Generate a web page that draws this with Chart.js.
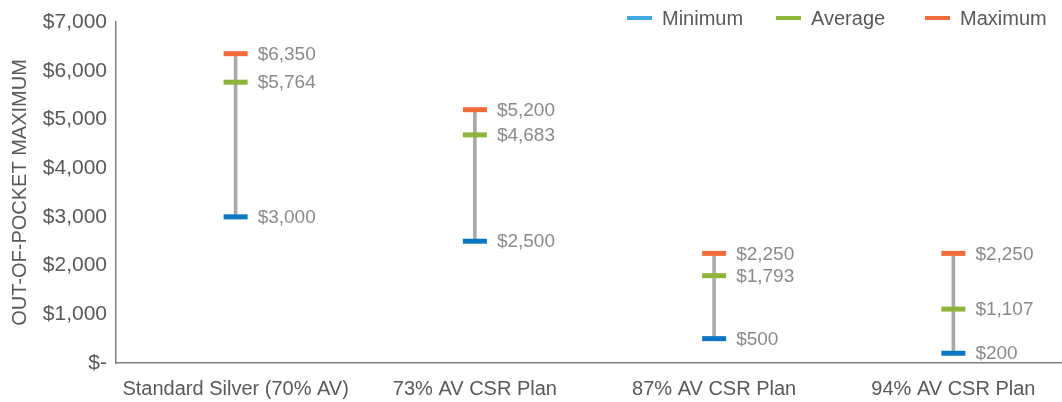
<!DOCTYPE html>
<html>
<head>
  <title>Out-of-Pocket Maximum</title>
  <script src="https://cdn.jsdelivr.net/npm/chart.js"></script>
  <style>
    body { margin: 0; overflow: hidden; background: #fff; }
    #wrap { width: 1062px; height: 402px; overflow: hidden; }
  </style>
</head>
<body>
  <div id="wrap">
    <canvas id="oopChart" width="1090" height="402"></canvas>
  </div>

  <script>
    // chart data
    const plans = ['Standard Silver (70% AV)', '73% AV CSR Plan', '87% AV CSR Plan', '94% AV CSR Plan'];
    const minimum = [3000, 2500, 500, 200];
    const average = [5764, 4683, 1793, 1107];
    const maximum = [6350, 5200, 2250, 2250];
    const yTicks = [0, 1000, 2000, 3000, 4000, 5000, 6000, 7000];

    const FONT = "'Liberation Sans', Arial, sans-serif";
    const money = v => v === 0 ? '$-' : '$' + v.toLocaleString('en-US');

    const legendItems = [
      { text: 'Minimum', color: '#41a9e1' },
      { text: 'Average', color: '#8db43b' },
      { text: 'Maximum', color: '#f26b3a' },
    ];

    // value labels to the right of each marker + the legend in the top right
    const labelsPlugin = {
      id: 'valueLabels',
      afterDatasetsDraw(chart) {
        const ctx = chart.ctx;
        ctx.save();
        ctx.font = '19px ' + FONT;
        ctx.fillStyle = '#8a8a8a';
        ctx.textAlign = 'left';
        ctx.textBaseline = 'middle';
        chart.data.datasets.forEach((ds, di) => {
          if (ds.type !== 'line') return;
          const meta = chart.getDatasetMeta(di);
          meta.data.forEach((pt, i) => {
            ctx.fillText(money(ds.data[i]), pt.x + 22, pt.y + 1);
          });
        });

        // legend
        ctx.font = '20px ' + FONT;
        let x = 627;
        legendItems.forEach(item => {
          ctx.fillStyle = item.color;
          ctx.fillRect(x, 16, 25, 4);
          ctx.fillStyle = '#595959';
          ctx.fillText(item.text, x + 35, 19);
          x += 149;
        });
        ctx.restore();
      }
    };

    function markerSet(label, values, color) {
      return {
        type: 'line',
        label: label,
        data: values,
        showLine: false,
        pointStyle: 'line',
        pointRadius: 12,
        pointHoverRadius: 12,
        pointBorderWidth: 5,
        pointBorderColor: color,
        borderColor: color,
        backgroundColor: color,
        order: 0,
      };
    }

    new Chart(document.getElementById('oopChart').getContext('2d'), {
      data: {
        labels: plans,
        datasets: [
          {
            type: 'bar',
            label: 'Range',
            data: minimum.map((v, i) => [v, maximum[i]]),
            backgroundColor: '#a9a9a9',
            barThickness: 3,
            order: 10,
          },
          markerSet('Minimum', minimum, '#0b76c1'),
          markerSet('Average', average, '#8db43b'),
          markerSet('Maximum', maximum, '#f26b3a'),
        ],
      },
      options: {
        responsive: false,
        animation: false,
        layout: { padding: { top: 22, right: 2, left: 0, bottom: 0 } },
        plugins: {
          legend: { display: false },
          tooltip: { enabled: false },
        },
        scales: {
          x: {
            offset: true,
            grid: { display: false, drawTicks: false },
            border: { display: true, color: '#808080', width: 1.5 },
            ticks: { color: '#595959', font: { family: FONT, size: 20 }, padding: 14, maxRotation: 0 },
            afterFit(scale) { scale.height = 39; },
          },
          y: {
            min: 0,
            max: 7000,
            grid: { display: false, drawTicks: false },
            border: { display: true, color: '#808080', width: 1.5 },
            afterBuildTicks(scale) { scale.ticks = yTicks.map(v => ({ value: v })); },
            ticks: {
              color: '#595959',
              font: { family: FONT, size: 21 },
              padding: 9,
              callback: v => money(v),
            },
            title: {
              display: true,
              text: 'OUT-OF-POCKET MAXIMUM',
              color: '#595959',
              font: { family: FONT, size: 20 },
              padding: { top: 8, bottom: 0 },
            },
            afterFit(scale) { scale.width = 116; },
          },
        },
      },
      plugins: [labelsPlugin],
    });
  </script>
</body>
</html>
